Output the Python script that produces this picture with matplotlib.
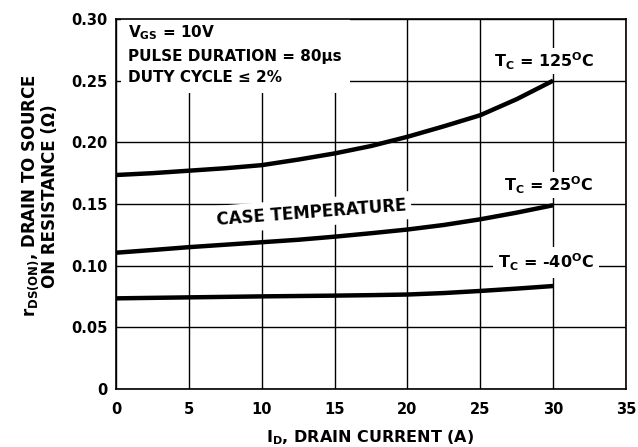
import matplotlib
matplotlib.use("Agg")
import matplotlib.pyplot as plt

# ============================================================================ #
# DATA
# ============================================================================ #
drain_current = [0, 2.5, 5, 7.5, 10, 12.5, 15, 17.5, 20, 22.5, 25, 27.5, 30]
r_125 = [0.1735, 0.175, 0.177, 0.179, 0.1815, 0.186, 0.191, 0.197, 0.2045,
         0.213, 0.222, 0.235, 0.250]
r_25 = [0.1105, 0.1127, 0.115, 0.117, 0.119, 0.121, 0.1235, 0.1263, 0.1293,
        0.133, 0.1376, 0.1430, 0.149]
r_m40 = [0.0735, 0.0739, 0.0743, 0.0747, 0.0751, 0.0754, 0.0757, 0.0761,
         0.0766, 0.0778, 0.0795, 0.0814, 0.0835]

x_ticks = [0, 5, 10, 15, 20, 25, 30, 35]
y_ticks = [0, 0.05, 0.10, 0.15, 0.20, 0.25, 0.30]
y_tick_labels = ["0", "0.05", "0.10", "0.15", "0.20", "0.25", "0.30"]

# ============================================================================ #
# STYLE
# ============================================================================ #
plt.rcParams["font.family"] = ["DejaVu Sans"]
plt.rcParams["font.weight"] = "bold"
plt.rcParams["mathtext.fontset"] = "custom"
plt.rcParams["mathtext.rm"] = "DejaVu Sans:bold"
plt.rcParams["mathtext.it"] = "DejaVu Sans:bold"
plt.rcParams["mathtext.bf"] = "DejaVu Sans:bold"

W, H = 638, 447
fig = plt.figure(figsize=(W / 100, H / 100), dpi=100)
ax = fig.add_axes([116 / W, 1 - 389 / H, 510 / W, 370 / H])

ax.set_xlim(0, 35)
ax.set_ylim(0, 0.30)
ax.set_xticks(x_ticks)
ax.set_yticks(y_ticks)
ax.set_yticklabels(y_tick_labels)
ax.tick_params(length=0, labelsize=10.5, width=0)
ax.tick_params(axis="x", pad=9)
ax.tick_params(axis="y", pad=6)
ax.grid(True, color="black", linewidth=1.0)
ax.set_axisbelow(True)
for sp in ax.spines.values():
    sp.set_linewidth(1.2)
    sp.set_zorder(6)

# curves
for series in (r_125, r_25, r_m40):
    ax.plot(drain_current, series, color="black", linewidth=3.2,
            solid_capstyle="butt", zorder=5)

white = dict(boxstyle="square,pad=0.15", facecolor="white", edgecolor="none")

ax.text(0.85, 0.2965,
        "V$_{GS}$ = 10V\nPULSE DURATION = 80\u03bcs\nDUTY CYCLE \u2264 2%",
        fontsize=11, ha="left", va="top", linespacing=1.55,
        bbox=dict(boxstyle="square,pad=0.5", facecolor="white",
                  edgecolor="none"), zorder=4)

ax.text(29.4, 0.266, "T$_{C}$ = 125$^{O}$C", fontsize=11.5,
        ha="center", va="center", bbox=white, zorder=4)
ax.text(29.7, 0.1654, "T$_{C}$ = 25$^{O}$C", fontsize=11.5,
        ha="center", va="center", bbox=white, zorder=4)
ax.text(29.5, 0.1025, "T$_{C}$ = -40$^{O}$C", fontsize=11.5,
        ha="center", va="center",
        bbox=dict(boxstyle="square,pad=0.3", facecolor="white",
                  edgecolor="none"), zorder=4)
ax.text(13.4, 0.143, "CASE TEMPERATURE", fontsize=12, rotation=4.4,
        rotation_mode="anchor", ha="center", va="center",
        bbox=dict(boxstyle="square,pad=0.3", facecolor="white",
                  edgecolor="none"), zorder=4)

fig.text(40 / W, 1 - 196 / H,
         "r$_{DS(ON)}$, DRAIN TO SOURCE\nON RESISTANCE (\u03a9)",
         rotation=90, ha="center", va="center", fontsize=12,
         multialignment="center", linespacing=1.0)
fig.text(370 / W, 1 - 442 / H, "I$_{D}$, DRAIN CURRENT (A)",
         ha="center", va="baseline", fontsize=11.5)

fig.savefig("out.png", dpi=100)
